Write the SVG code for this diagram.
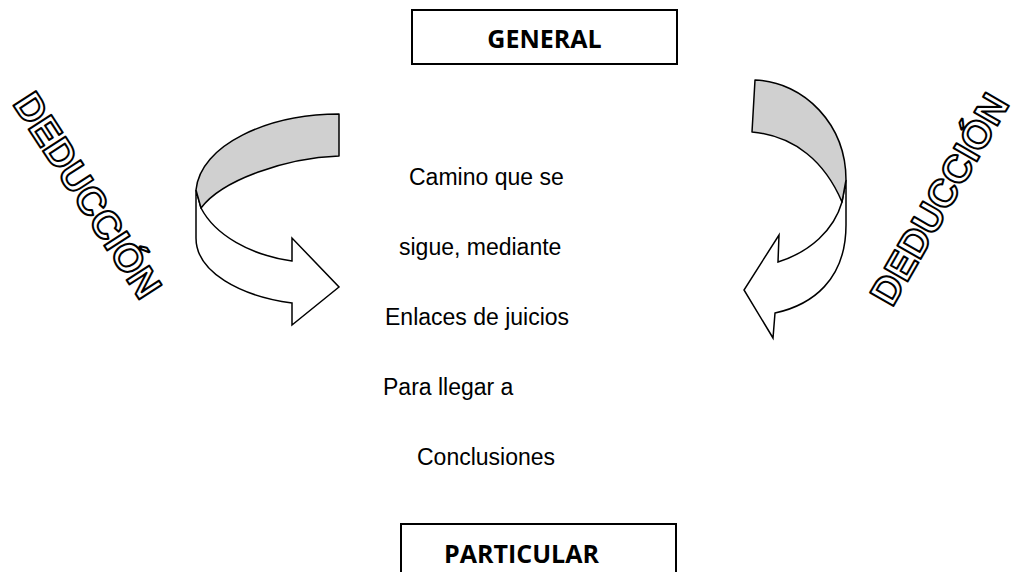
<svg xmlns="http://www.w3.org/2000/svg" width="1011" height="572" viewBox="0 0 1011 572">
<style>
.box{fill:#fff;stroke:#000;stroke-width:2}
.lbl{font-family:"Open Sans","Liberation Sans",sans-serif;font-weight:bold;font-size:25px;fill:#000}
.body{font-family:"Liberation Sans",Arial,sans-serif;font-size:23px;fill:#000}
.outl{font-family:"Liberation Sans",Arial,sans-serif;font-weight:bold;font-size:39px;fill:#fff;stroke:#000;stroke-width:2;stroke-linejoin:round;text-anchor:middle}
.gray{fill:#d0d0d0;stroke:#000;stroke-width:1.5;stroke-linejoin:round}
.white{fill:#fff;stroke:#000;stroke-width:1.5;stroke-linejoin:miter}
</style>
<rect width="1011" height="572" fill="#fff"/>
<g id="general">
<rect class="box" x="412" y="10" width="265" height="54"/>
<text class="lbl" x="544.5" y="48" text-anchor="middle">GENERAL</text>
</g>
<g id="particular">
<rect class="box" x="401" y="524" width="275" height="60"/>
<text class="lbl" x="444" y="563">PARTICULAR</text>
</g>
<g id="center-text">
<text class="body" x="409" y="185">Camino que se</text>
<text class="body" x="399" y="255">sigue, mediante</text>
<text class="body" x="385" y="325">Enlaces de juicios</text>
<text class="body" x="383" y="395">Para llegar a</text>
<text class="body" x="417" y="465">Conclusiones</text>
</g>
<g id="deduccion-left">
<text class="outl" transform="translate(88,195) rotate(57)" y="14">DEDUCCIÓN</text>
</g>
<g id="deduccion-right">
<text class="outl" transform="translate(939,199) rotate(-60)" y="14">DEDUCCIÓN</text>
</g>
<g id="connectors">
<g id="arrow-left">
<path class="white" d="M196,190 L196,238 C196,272 240,296 292,303 L292,325 L339,287 L292,238 L292,261 C250,255 215,235 201,208 Z"/>
<path class="gray" d="M339,114 C268,114 200,145 196,190 L201,208 C222,180 285,158 339,156 Z"/>
</g>
<g id="arrow-right">
<path class="white" d="M846,180 L846,225 C846,280 812,305 775,313 L773,338 L744,290 L779,235 L778,262 C810,252 834,230 842,202 Z"/>
<path class="gray" d="M755,80 C805,82 846,125 846,180 L842,202 C825,162 795,136 752,132 Z"/>
</g>
</g>
</svg>
